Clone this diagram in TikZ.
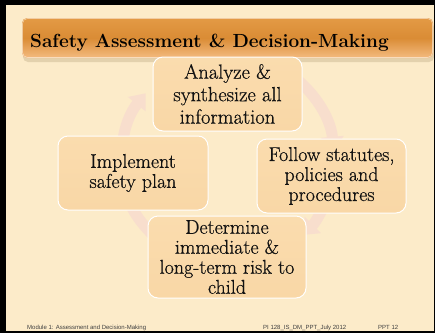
\documentclass[tikz,border=0pt]{standalone}
\usepackage{fontspec}
\newfontfamily\footfont{Liberation Sans}
\newfontfamily\boxfont{Latin Modern Roman}[FakeBold=0.6]
\usetikzlibrary{arrows.meta}
\definecolor{bgcream}{HTML}{FCEBC9}
\definecolor{boxfill}{HTML}{F9D7A6}
\definecolor{boxtop}{HTML}{FADCAE}
\definecolor{ringpink}{HTML}{F8DECD}
\definecolor{bartop}{HTML}{E39A45}
\definecolor{barmid}{HTML}{DA8C35}
\definecolor{barbot}{HTML}{F4BB80}
\definecolor{shadowc}{HTML}{D9C6A2}
\definecolor{foottext}{HTML}{404040}
\definecolor{boxtext}{HTML}{111111}
\tikzset{
  cyclebox/.style={draw=white, line width=1pt, rounded corners=10pt, top color=boxtop, bottom color=boxfill,
    align=center, text=boxtext, inner sep=0pt, font=\boxfont\fontsize{20}{20}\selectfont},
  ringarc/.style={draw=ringpink, line width=11pt, -{Triangle[length=14pt,width=22pt]}},
  foot/.style={font=\footfont\fontsize{6}{7}\selectfont, text=foottext, anchor=base west, inner sep=0pt}
}
\begin{document}
\begin{tikzpicture}[x=1pt,y=1pt]
\useasboundingbox (0,0) rectangle (435,333);
\fill[bgcream] (0,0) rectangle (435,333);
% ring arcs
\coordinate (rc) at (228,173);
\draw[ringarc] (rc) ++(200:106) arc[start angle=200, end angle=141, radius=106];
\draw[ringarc] (rc) ++(60:106) arc[start angle=60, end angle=5, radius=106];
\draw[ringarc] (rc) ++(-15:106) arc[start angle=-15, end angle=-45, radius=106];
\draw[ringarc] (rc) ++(235:106) arc[start angle=235, end angle=195, radius=106];
% title bar
\fill[shadowc, rounded corners=5pt, opacity=0.7] (23,271) rectangle (434,311);
\shade[rounded corners=5pt, top color=bartop, bottom color=barbot, middle color=barmid] (22,275) rectangle (433,315);
\draw[white, opacity=0.5, line width=0.6pt, rounded corners=5pt] (22.5,275.5) rectangle (432.5,314.5);
\node[anchor=base west, inner sep=0pt, font=\bfseries\fontsize{19}{23}\selectfont, text=black] (title) at (30,286) {Safety Assessment \& Decision-Making};
% boxes
\node[cyclebox, minimum width=149pt, minimum height=74pt, font=\boxfont\fontsize{20.5}{22.5}\selectfont] (top) at (227.5,239) {Analyze \&\\synthesize all\\information};
\node[cyclebox, minimum width=150pt, minimum height=74pt] (left) at (133,160) {Implement\\safety plan};
\node[cyclebox, minimum width=149pt, minimum height=74pt] (right) at (331.5,157) {Follow statutes,\\policies and\\procedures};
\node[cyclebox, minimum width=158pt, minimum height=82pt] (bottom) at (227,76) {Determine\\immediate \&\\long-term risk to\\child};
% footer
\node[foot] (f1) at (27,4) {Module 1: Assessment and Decision-Making};
\node[foot] (f2) at (263,4) {PI 128\_IS\_DM\_PPT\_July 2012};
\node[foot] (f3) at (378,4) {PPT 12};
% frame
\fill[black] (0,0) rectangle (6,333);
\fill[black] (0,328) rectangle (435,333);
\fill[black] (0,0) rectangle (435,2.5);
\fill[black] (433.5,0) rectangle (435,333);
\end{tikzpicture}
\end{document}
